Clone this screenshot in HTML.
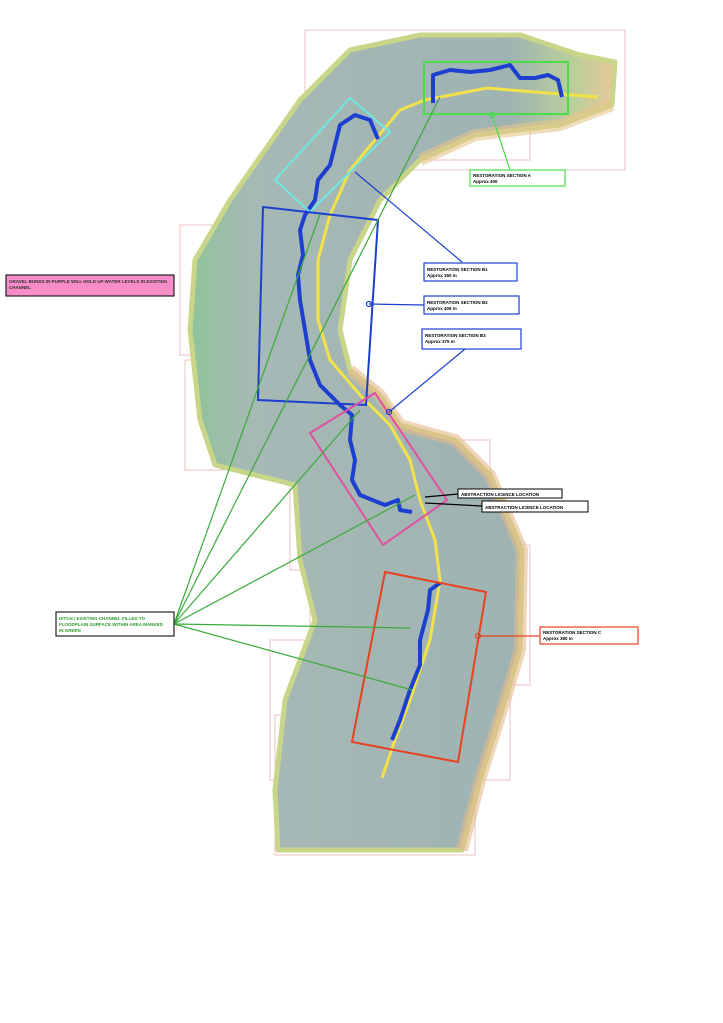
<!DOCTYPE html>
<html><head><meta charset="utf-8"><style>
html,body{margin:0;padding:0;background:#fff}
svg{display:block}
text{font-family:"Liberation Sans",sans-serif;font-weight:bold}
</style></head><body>
<svg width="723" height="1023" viewBox="0 0 723 1023" xmlns="http://www.w3.org/2000/svg">
<defs>
<linearGradient id="g1" x1="0" y1="0" x2="1" y2="0">
<stop offset="0" stop-color="#8fc49a"/><stop offset="0.15" stop-color="#a7b9b5"/><stop offset="0.75" stop-color="#9fb3b3"/><stop offset="0.9" stop-color="#b9cf9a"/><stop offset="1" stop-color="#e8c79a"/>
</linearGradient>
</defs>
<g fill="none" stroke="#e8a8a8" stroke-width="0.7">
<rect x="305" y="30" width="320" height="140"/>
<rect x="180" y="225" width="160" height="130"/>
<rect x="185" y="360" width="120" height="110"/>
<rect x="290" y="440" width="200" height="130"/>
<rect x="310" y="545" width="220" height="140"/>
<rect x="270" y="640" width="240" height="140"/>
<rect x="275" y="715" width="200" height="140"/>
<rect x="420" y="60" width="110" height="100"/>
</g>
<path d="M230,200 L265,150 L300,100 L350,50 L420,35 L520,35 L580,55 L615,62 L612,105 L560,125 L475,135 L420,160 L380,200 L350,260 L340,330 L350,370 L380,395 L400,425 L455,440 L490,475 L522,550 L520,650 L505,700 L480,780 L462,850 L278,850 L275,790 L285,700 L315,620 L300,560 L295,485 L215,465 L200,420 L190,330 L195,260 Z" fill="url(#g1)" stroke="#c9d68a" stroke-width="5" stroke-linejoin="round"/>
<path d="M350,370 L380,395 L400,425 L455,440 L490,475 L522,550 L520,650 L505,700 L480,780 L462,850" fill="none" stroke="#e5b98a" stroke-width="12" opacity="0.6"/>
<path d="M420,160 L475,135 L560,125 L612,105" fill="none" stroke="#e5c58a" stroke-width="12" opacity="0.6"/>
<path d="M598,97 L510,90 L487,88 L425,100 L400,110 L375,140 L350,170 L330,215 L318,260 L318,320 L330,360 L360,395 L390,425 L410,460 L420,500 L435,540 L440,580 L430,640 L410,700 L395,740 L382,778" fill="none" stroke="#f2e24a" stroke-width="3"/>
<path d="M433,103 L433,75 L450,70 L470,72 L490,70 L510,65 L520,78 L535,78 L548,75 L558,80 L562,97 M378,139 L370,120 L355,115 L340,125 L335,145 L330,165 L318,180 L315,200 L305,215 L300,230 L303,255 L298,275 L300,300 L305,330 L310,360 L320,385 L340,405 L352,415 L350,440 L355,460 L352,480 L360,495 L385,505 L398,500 L400,510 L412,512 M440,583 L430,590 L428,610 L420,640 L420,665 L410,690 L400,720 L392,740" fill="none" stroke="#1c3fd0" stroke-width="4" stroke-linejoin="round"/>
<rect x="424" y="62" width="144" height="52" fill="none" stroke="#4bdc4b" stroke-width="2"/>
<polygon points="275,180 350,98 390,132 310,212" fill="none" stroke="#6fe8e0" stroke-width="2"/>
<polygon points="263,207 378,220 366,405 258,400" fill="none" stroke="#1c3fd0" stroke-width="2"/>
<polygon points="310,433 375,393 447,500 383,545" fill="none" stroke="#e050a0" stroke-width="2"/>
<polygon points="385,572 486,592 458,762 352,742" fill="none" stroke="#e84020" stroke-width="2"/>
<g stroke="#3aaa3a" stroke-width="1.2" fill="none">
<line x1="174" y1="624" x2="320" y2="214"/>
<line x1="174" y1="624" x2="440" y2="97"/>
<line x1="174" y1="624" x2="360" y2="410"/>
<line x1="174" y1="624" x2="415" y2="495"/>
<line x1="174" y1="624" x2="410" y2="628"/>
<line x1="174" y1="624" x2="412" y2="690"/>
</g>
<g fill="none" stroke-width="1.2">
<line x1="492" y1="115" x2="510" y2="170" stroke="#4bdc4b"/>
<line x1="355" y1="172" x2="462" y2="262" stroke="#1c3fd0"/>
<line x1="369" y1="304" x2="424" y2="305" stroke="#1c3fd0"/>
<line x1="389" y1="412" x2="465" y2="349" stroke="#1c3fd0"/>
<line x1="425" y1="497" x2="458" y2="494" stroke="#000"/>
<line x1="425" y1="503" x2="482" y2="506" stroke="#000"/>
<line x1="478" y1="636" x2="540" y2="636" stroke="#e84020"/>
<circle cx="492" cy="115" r="2.5" stroke="#4bdc4b"/>
<circle cx="369" cy="304" r="2.5" stroke="#1c3fd0"/>
<circle cx="389" cy="412" r="2.5" stroke="#1c3fd0"/>
<circle cx="478" cy="636" r="2.5" stroke="#e84020"/>
</g>
<rect x="470" y="170" width="95" height="16" fill="#fff" stroke="#4bdc4b" stroke-width="1.2"/>
<text x="473" y="177" font-size="4.5">RESTORATION SECTION A</text><text x="473" y="183" font-size="4.5">Approx 400</text>
<rect x="424" y="263" width="93" height="18" fill="#fff" stroke="#1c3fd0" stroke-width="1.2"/>
<text x="427" y="271" font-size="4.5">RESTORATION SECTION B1</text><text x="427" y="277" font-size="4.5">Approx 350 m</text>
<rect x="424" y="296" width="95" height="18" fill="#fff" stroke="#1c3fd0" stroke-width="1.2"/>
<text x="427" y="304" font-size="4.5">RESTORATION SECTION B2</text><text x="427" y="310" font-size="4.5">Approx 406 m</text>
<rect x="422" y="329" width="99" height="20" fill="#fff" stroke="#1c3fd0" stroke-width="1.2"/>
<text x="425" y="337" font-size="4.5">RESTORATION SECTION B3</text><text x="425" y="343" font-size="4.5">Approx 375 m</text>
<rect x="458" y="489" width="104" height="9" fill="#fff" stroke="#000" stroke-width="1"/>
<text x="461" y="496" font-size="4.5">ABSTRACTION LICENCE LOCATION</text>
<rect x="482" y="501" width="106" height="11" fill="#fff" stroke="#000" stroke-width="1"/>
<text x="485" y="509" font-size="4.5">ABSTRACTION LICENCE LOCATION</text>
<rect x="540" y="627" width="98" height="17" fill="#fff" stroke="#e84020" stroke-width="1.2"/>
<text x="543" y="634" font-size="4.5">RESTORATION SECTION C</text><text x="543" y="640" font-size="4.5">Approx 380 m</text>
<rect x="6" y="275" width="168" height="21" fill="#f78dc8" stroke="#222" stroke-width="1.2"/>
<text x="9" y="283" font-size="4.5" font-weight="normal" fill="#333">GRAVEL BUNDS IN PURPLE WILL HOLD UP WATER LEVELS IN EXISTING</text><text x="9" y="289" font-size="4.5" font-weight="normal" fill="#333">CHANNEL</text>
<rect x="56" y="612" width="118" height="24" fill="#fff" stroke="#222" stroke-width="1.2"/>
<text x="59" y="620" font-size="4.5" fill="#2a9a2a">DITCH / EXISTING CHANNEL FILLED TO</text><text x="59" y="626" font-size="4.5" fill="#2a9a2a">FLOODPLAIN SURFACE WITHIN AREA MARKED</text><text x="59" y="632" font-size="4.5" fill="#2a9a2a">IN GREEN</text>
</svg>
</body></html>
